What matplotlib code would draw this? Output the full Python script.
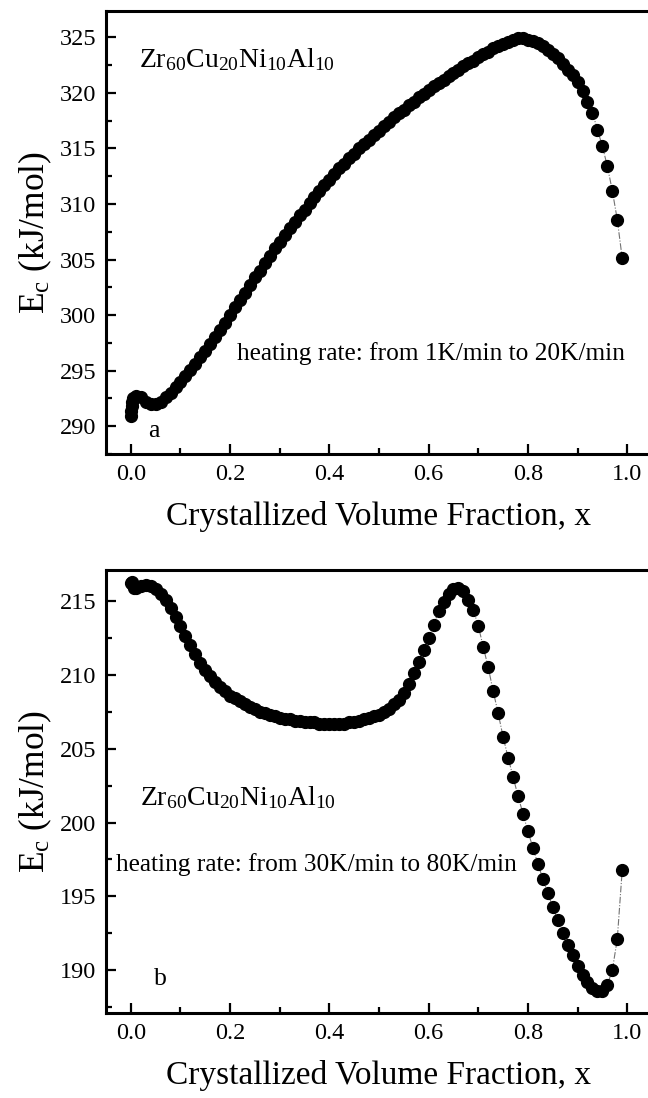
import numpy as np
import matplotlib
matplotlib.use("Agg")
import matplotlib.pyplot as plt

plt.rcParams['font.family'] = ['Liberation Serif', 'DejaVu Serif']
plt.rcParams['mathtext.fontset'] = 'custom'
plt.rcParams['mathtext.rm'] = 'Liberation Serif'
plt.rcParams['mathtext.it'] = 'Liberation Serif'

# crystallized volume fraction, sampled every 0.01 plus a few points near 0
x_grid = np.round(np.arange(0.01, 1.0, 0.01), 2)

# panel a: 1 K/min to 20 K/min
x_a = np.concatenate([[0.0, 0.001, 0.002, 0.003, 0.005], x_grid])
ec_a = [290.9, 291.4, 291.8, 292.2, 292.5,
        292.7, 292.6, 292.2, 292.0, 292.0, 292.2, 292.6, 293.0, 293.5, 294.0,
        294.5, 295.1, 295.6, 296.2, 296.8, 297.4, 298.0, 298.7, 299.3, 300.0,
        300.7, 301.4, 302.0, 302.7, 303.4, 304.0, 304.7, 305.3, 306.0, 306.6,
        307.2, 307.8, 308.4, 309.0, 309.5, 310.1, 310.6, 311.2, 311.7, 312.2,
        312.7, 313.2, 313.6, 314.1, 314.5, 315.0, 315.4, 315.8, 316.2, 316.6,
        317.0, 317.4, 317.8, 318.2, 318.5, 318.9, 319.2, 319.6, 319.9, 320.3,
        320.6, 320.9, 321.2, 321.5, 321.8, 322.1, 322.4, 322.7, 322.9, 323.2,
        323.5, 323.7, 324.0, 324.2, 324.4, 324.6, 324.8, 324.9, 324.9, 324.8,
        324.7, 324.5, 324.2, 323.9, 323.5, 323.1, 322.6, 322.1, 321.6, 321.0,
        320.2, 319.2, 318.2, 316.7, 315.2, 313.4, 311.2, 308.6, 305.1]

# panel b: 30 K/min to 80 K/min
x_b = np.concatenate([[0.0, 0.002, 0.004, 0.006], x_grid])
ec_b = [216.2, 216.3, 216.1, 215.9,
        215.9, 216.0, 216.1, 216.0, 215.8, 215.5, 215.1, 214.5, 213.9, 213.3,
        212.6, 212.0, 211.4, 210.8, 210.3, 209.9, 209.5, 209.2, 208.9, 208.6,
        208.4, 208.2, 208.0, 207.8, 207.7, 207.5, 207.4, 207.3, 207.2, 207.1,
        207.0, 207.0, 206.9, 206.9, 206.8, 206.8, 206.8, 206.7, 206.7, 206.7,
        206.7, 206.7, 206.7, 206.8, 206.8, 206.9, 207.0, 207.1, 207.2, 207.3,
        207.5, 207.7, 208.0, 208.3, 208.8, 209.4, 210.1, 210.9, 211.7, 212.5,
        213.4, 214.3, 214.9, 215.5, 215.8, 215.9, 215.7, 215.1, 214.4, 213.3,
        211.9, 210.5, 208.9, 207.4, 205.8, 204.4, 203.1, 201.8, 200.6, 199.4,
        198.3, 197.2, 196.2, 195.2, 194.3, 193.4, 192.5, 191.7, 191.0, 190.3,
        189.7, 189.2, 188.8, 188.6, 188.6, 189.0, 190.0, 192.1, 196.8]

alloy = r'Zr$_{\mathrm{60}}$Cu$_{\mathrm{20}}$Ni$_{\mathrm{10}}$Al$_{\mathrm{10}}$'

fig = plt.figure(figsize=(6.48, 10.98), dpi=100)
ax1 = fig.add_axes([0.1636, 0.5865, 0.8426, 0.4038])
ax2 = fig.add_axes([0.1636, 0.0774, 0.8426, 0.4035])

panels = [
    (ax1, x_a, ec_a, (287.8, 327.4), [290, 295, 300, 305, 310, 315, 320, 325]),
    (ax2, x_b, ec_b, (187.1, 217.1), [190, 195, 200, 205, 210, 215]),
]

for ax, xs, ys, ylim, yt in panels:
    ax.plot(xs, ys, color='0.45', lw=0.8, ls=(0, (6, 1.5, 1, 1.5)),
            marker='o', ms=8.5, mfc='k', mec='k', zorder=3)
    ax.set_xlim(-0.05, 1.05)
    ax.set_ylim(*ylim)
    ax.set_xticks([0.0, 0.2, 0.4, 0.6, 0.8, 1.0])
    ax.set_xticks([0.1, 0.3, 0.5, 0.7, 0.9], minor=True)
    ax.set_yticks(yt)
    ax.set_yticks([v + 2.5 for v in yt[:-1]] + [yt[0] - 2.5], minor=True)
    ax.set_xticklabels(['0.0', '0.2', '0.4', '0.6', '0.8', '1.0'])
    ax.tick_params(which='both', direction='in', width=1.6, labelsize=17.5,
                   pad=7, top=False, right=False)
    ax.tick_params(which='major', length=7)
    ax.tick_params(which='minor', length=4)
    for sp in ax.spines.values():
        sp.set_linewidth(2.2)
    ax.set_xlabel('Crystallized Volume Fraction, x', fontsize=24, labelpad=12)
    ax.set_ylabel(r'E$_{\mathrm{c}}$ (kJ/mol)', fontsize=25.5, labelpad=4)

ax1.text(0.016, 322.3, alloy, fontsize=20)
ax1.text(0.213, 296.0, 'heating rate: from 1K/min to 20K/min', fontsize=18.3)
ax1.text(0.035, 289.0, 'a', fontsize=18.5)

ax2.text(0.018, 201.2, alloy, fontsize=20)
ax2.text(-0.03, 196.7, 'heating rate: from 30K/min to 80K/min', fontsize=18.3)
ax2.text(0.047, 189.0, 'b', fontsize=18.5)

fig.savefig('out.png', dpi=100)
